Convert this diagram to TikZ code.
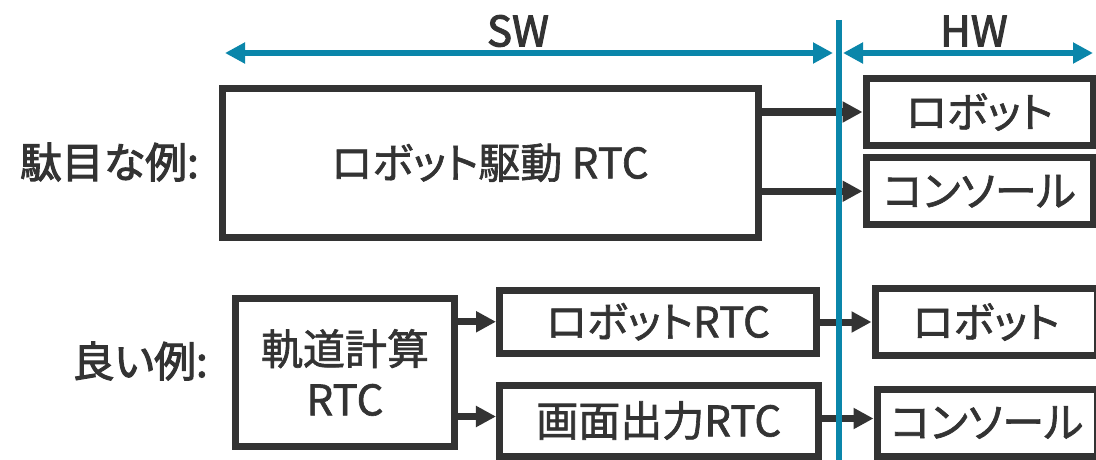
\documentclass[tikz,border=0pt]{standalone}
\usepackage{fontspec}
\setmainfont{Noto Sans CJK JP}[RawFeature=+palt, FakeBold=1.5]
\newfontfamily\lblfont{Noto Sans CJK JP}[RawFeature=+palt, FakeBold=2.5]
\usetikzlibrary{arrows.meta}
\definecolor{dk}{HTML}{333333}
\definecolor{bl}{HTML}{0A86AA}
\newcommand\myfs{\fontsize{31.5}{38}\selectfont}
\newcommand\mylf{\lblfont\fontsize{31.5}{38}\selectfont}
\begin{document}
\begin{tikzpicture}[x=0.75pt,y=-0.75pt,
  box/.style={draw=dk, line width=5.25pt, text=dk, inner sep=0pt, font=\myfs, fill=white},
  arr/.style={draw=dk, line width=5.25pt, -{Triangle[length=15pt,width=15pt]}},
  barr/.style={draw=bl, line width=4.5pt, {Triangle[length=15pt,width=15pt]}-{Triangle[length=15pt,width=15pt]}},
  lbl/.style={text=dk, font=\mylf, inner sep=0pt}]
\useasboundingbox (0,0) rectangle (1096,460);

% labels
\node[lbl] (sw) at (518,31) {SW};
\node[lbl] (hw) at (974,31) {HW};
\node[lbl, anchor=east] (bad) at (199,162) {駄目な例:};
\node[lbl, anchor=east] (good) at (208,361) {良い例:};

% boxes
\node[box, minimum width=402pt, minimum height=111.4pt] (big) at (490,162.75) {ロボット駆動 RTC};
\node[box, minimum width=170.25pt, minimum height=49.5pt] (hwr1) at (979.5,112) {ロボット};
\node[box, minimum width=170.25pt, minimum height=49.9pt] (hwc1) at (979.5,191.25) {コンソール};
\node[box, minimum width=164.6pt, minimum height=110.6pt, align=center] (traj) at (345,372.5) {軌道計算\\RTC};
\node[box, minimum width=237.75pt, minimum height=47.6pt] (rob) at (658,321.75) {ロボットRTC};
\node[box, minimum width=238.9pt, minimum height=53.25pt] (scr) at (658.75,420.5) {画面出力RTC};
\node[box, minimum width=166.5pt, minimum height=50.25pt] (hwr2) at (986,322) {ロボット};
\node[box, minimum width=165pt, minimum height=50.25pt] (hwc2) at (987,422.5) {コンソール};

% connectors
\draw[arr] (hwr1.west -| big.east) -- (hwr1.west);
\draw[arr] (hwc1.west -| big.east) -- (hwc1.west);
\draw[arr] (rob.west -| traj.east) -- (rob.west);
\draw[arr] ([yshift=3pt]scr.west -| traj.east) -- ([yshift=3pt]scr.west);
\draw[arr] (hwr2.west -| rob.east) -- (hwr2.west);
\draw[arr] ([yshift=3pt]hwc2.west -| scr.east) -- ([yshift=3pt]hwc2.west);

% SW / HW boundary
\coordinate (swl) at (225,53);
\coordinate (swr) at (833,53);
\coordinate (hwl) at (843,53);
\coordinate (hwr) at (1093,53);
\coordinate (vt) at (839,20);
\coordinate (vb) at (839,470);
\draw[barr] (swl) -- (swr);
\draw[barr] (hwl) -- (hwr);
\draw[draw=bl, line width=4.9pt] (vt) -- (vb);
\end{tikzpicture}
\end{document}
